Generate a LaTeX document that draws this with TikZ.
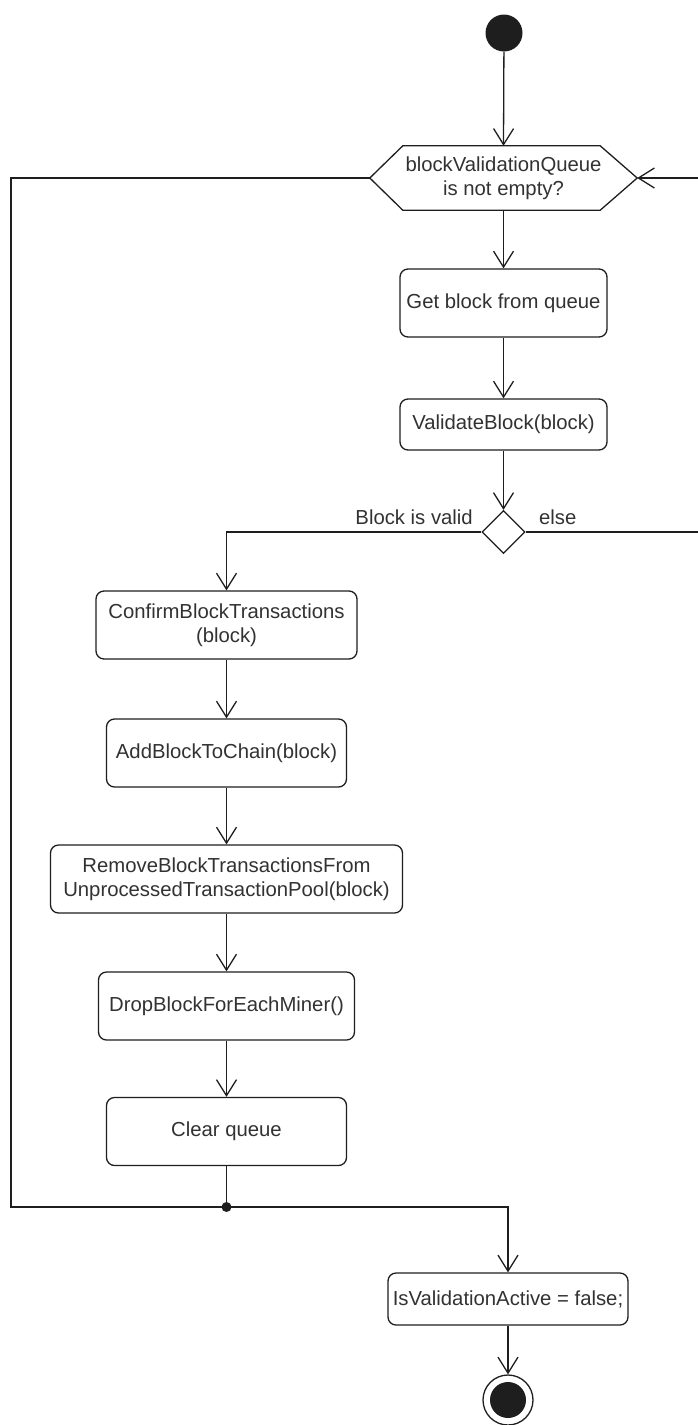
\documentclass[tikz,border=0pt]{standalone}
\usepackage{fontspec}
\setmainfont{Liberation Sans}
\usetikzlibrary{arrows.meta,shapes.geometric}

\definecolor{ink}{RGB}{30,30,30}
\definecolor{txt}{RGB}{50,50,50}

\tikzset{
  base/.style={line width=1.3pt, draw=ink},
  action/.style={base, rectangle, rounded corners=8pt, fill=white, inner sep=0pt,
    align=center, text=txt, font=\fontsize{20.3}{24}\selectfont},
  label/.style={inner sep=0pt, text=txt, font=\fontsize{20.3}{24}\selectfont},
  flow/.style={base, -{Straight Barb[length=16pt,width=20pt]}},
  wire/.style={base},
}

\begin{document}
\begin{tikzpicture}[x=1pt,y=-1pt]
  \useasboundingbox (0,0) rectangle (698,1425);

  % start node
  \node[circle, fill=ink, minimum size=37pt, inner sep=0pt] (start) at (504,33) {};

  % loop condition (hexagon outline drawn around a plain node)
  \node[label, align=center, minimum width=267pt, minimum height=64pt] (hex) at (503.5,178)
    {blockValidationQueue\\is not empty?};
  \draw[base, line join=miter]
    (hex.west) -- ([xshift=33pt]hex.north west) -- ([xshift=-37pt]hex.north east)
    -- (hex.east) -- ([xshift=-37pt]hex.south east) -- ([xshift=33pt]hex.south west) -- cycle;

  % main actions
  \node[action, minimum width=207pt, minimum height=68pt] (get) at (503.5,303) {Get block from queue};
  \node[action, minimum width=207pt, minimum height=51pt] (validate) at (503.5,424.5) {ValidateBlock(block)};

  % decision
  \node[base, diamond, minimum width=43pt, minimum height=43pt, inner sep=0pt, aspect=1] (dec) at (503.5,532) {};
  \node[label, anchor=base east] (lvalid) at (473,524) {Block is valid};
  \node[label, anchor=base west] (lelse) at (539,524) {else};

  % valid branch
  \node[action, minimum width=261pt, minimum height=68pt] (confirm) at (226.5,625)
    {ConfirmBlockTransactions\\(block)};
  \node[action, minimum width=240pt, minimum height=68pt] (add) at (226.5,753) {AddBlockToChain(block)};
  \node[action, minimum width=352pt, minimum height=68pt] (remove) at (226.5,879)
    {RemoveBlockTransactionsFrom\\UnprocessedTransactionPool(block)};
  \node[action, minimum width=256pt, minimum height=68pt] (drop) at (226.5,1006) {DropBlockForEachMiner()};
  \node[action, minimum width=240pt, minimum height=68pt] (clear) at (226.5,1131.5) {Clear queue};

  % exit
  \node[action, minimum width=240pt, minimum height=52pt] (final) at (508,1299) {IsValidationActive = false;};
  \node[base, circle, fill=white, minimum size=50pt, inner sep=0pt] (end) at (508,1400) {};
  \fill[ink] (end.center) circle (18pt);

  % routing points
  \coordinate (lt) at (11,178);
  \coordinate (lb) at (11,1207);
  \coordinate (j) at (226.5,1207);
  \coordinate (rb) at (699,532);
  \coordinate (rt) at (699,178);

  % connectors
  \draw[flow] (start) -- (hex.north);
  \draw[flow] (hex.south) -- (get.north);
  \draw[flow] (get.south) -- (validate.north);
  \draw[flow] (validate.south) -- (dec.north);
  \draw[flow] (dec.west) -| (confirm.north);
  \draw[flow] (confirm.south) -- (add.north);
  \draw[flow] (add.south) -- (remove.north);
  \draw[flow] (remove.south) -- (drop.north);
  \draw[flow] (drop.south) -- (clear.north);
  \draw[wire] (clear.south) -- (j);
  \draw[flow] (hex.west) -- (lt) -- (lb) -| (final.north);
  \fill[ink] (j) circle (5pt);
  \draw[flow] (dec.east) -- (rb) -- (rt) -- (hex.east);
  \draw[flow] (final.south) -- (end.north);
\end{tikzpicture}
\end{document}
